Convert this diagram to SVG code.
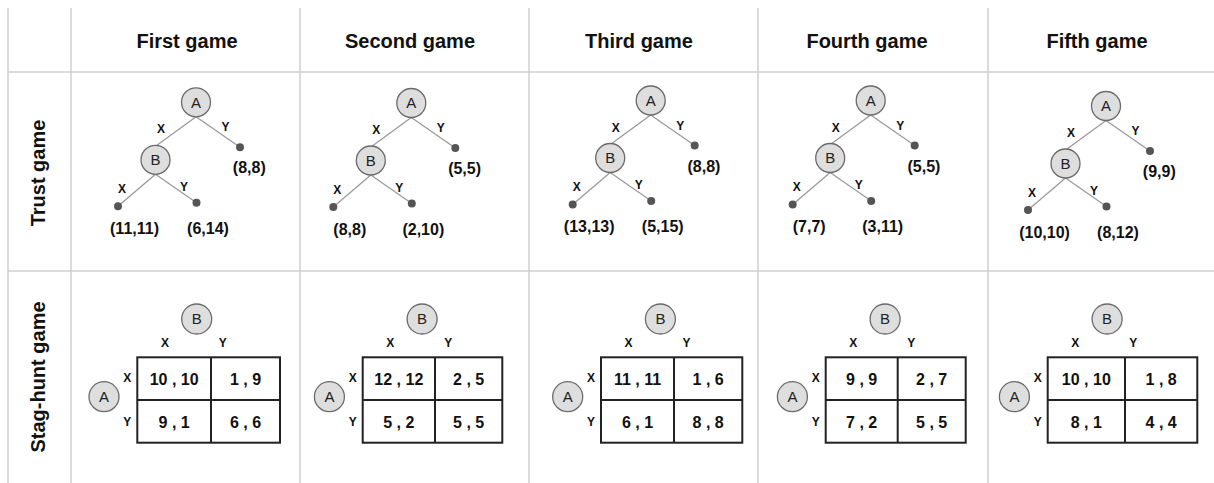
<svg xmlns="http://www.w3.org/2000/svg" width="1214" height="483" viewBox="0 0 1214 483">
<style>
.grid{stroke:#cfcfcf;stroke-width:1.5;fill:none}
.hdr{font-family:"Liberation Sans",Arial,sans-serif;font-weight:bold;font-size:20px;fill:#111;text-anchor:middle}
.edge{stroke:#9a9a9a;stroke-width:1.3;fill:none}
.node{fill:#dedede;stroke:#6a6a6a;stroke-width:1.3}
.leaf{fill:#555}
.nl{font-family:"Liberation Sans",Arial,sans-serif;font-size:15px;fill:#222;text-anchor:middle}
.act{font-family:"Liberation Sans",Arial,sans-serif;font-weight:bold;font-size:12px;fill:#111;text-anchor:middle}
.pay{font-family:"Liberation Sans",Arial,sans-serif;font-weight:bold;font-size:16px;fill:#111;text-anchor:middle}
.tbl{stroke:#222;stroke-width:2;fill:none}
</style>
<g id="grid" class="grid">
<line x1="8" y1="8" x2="8" y2="483"/>
<line x1="71" y1="8" x2="71" y2="483"/>
<line x1="300" y1="8" x2="300" y2="483"/>
<line x1="529" y1="8" x2="529" y2="483"/>
<line x1="758" y1="8" x2="758" y2="483"/>
<line x1="988" y1="8" x2="988" y2="483"/>
<line x1="8" y1="72" x2="1214" y2="72"/>
<line x1="8" y1="271" x2="1214" y2="271"/>
</g>
<g id="headers">
<text class="hdr" x="187" y="48">First game</text>
<text class="hdr" x="410" y="48">Second game</text>
<text class="hdr" x="639" y="48">Third game</text>
<text class="hdr" x="867" y="48">Fourth game</text>
<text class="hdr" x="1097" y="48">Fifth game</text>
<text class="hdr" x="45" y="173" transform="rotate(-90 45 173)">Trust game</text>
<text class="hdr" x="45" y="377" transform="rotate(-90 45 377)">Stag-hunt game</text>
</g>
<defs>
<g id="treeEdges" class="edge">
<line x1="0" y1="14.5" x2="44" y2="45"/>
<line x1="0" y1="14.5" x2="-39" y2="43"/>
<line x1="-40.5" y1="72" x2="-78" y2="104"/>
<line x1="-40.5" y1="72" x2="0.5" y2="100.5"/>
</g>
<g id="treeNodes">
<circle class="node" cx="0" cy="0" r="14.5"/>
<text class="nl" x="0" y="5.4">A</text>
<circle class="node" cx="-40.5" cy="57.5" r="14.5"/>
<text class="nl" x="-40.5" y="62.9">B</text>
<circle class="leaf" cx="44" cy="45" r="4"/>
<circle class="leaf" cx="-78" cy="104" r="4"/>
<circle class="leaf" cx="0.5" cy="100.5" r="4"/>
<text class="act" x="-35" y="31">X</text>
<text class="act" x="29.5" y="29">Y</text>
<text class="act" x="-74" y="90.5">X</text>
<text class="act" x="-12" y="88.5">Y</text>
</g>
</defs>
<g id="trust1" transform="translate(196 102.3)">
<g class="connectors"><use href="#treeEdges"/></g>
<use href="#treeNodes"/>
<text class="pay" x="53.3" y="71">(8,8)</text>
<text class="pay" x="-61.5" y="131.5">(11,11)</text>
<text class="pay" x="12" y="131.5">(6,14)</text>
</g>
<g id="trust2" transform="translate(411.3 103)">
<g class="connectors"><use href="#treeEdges"/></g>
<use href="#treeNodes"/>
<text class="pay" x="53.3" y="71">(5,5)</text>
<text class="pay" x="-61.5" y="131.5">(8,8)</text>
<text class="pay" x="12" y="131.5">(2,10)</text>
</g>
<g id="trust3" transform="translate(650.7 100.5)">
<g class="connectors"><use href="#treeEdges"/></g>
<use href="#treeNodes"/>
<text class="pay" x="53.3" y="71">(8,8)</text>
<text class="pay" x="-61.5" y="131.5">(13,13)</text>
<text class="pay" x="12" y="131.5">(5,15)</text>
</g>
<g id="trust4" transform="translate(870.7 100.5)">
<g class="connectors"><use href="#treeEdges"/></g>
<use href="#treeNodes"/>
<text class="pay" x="53.3" y="71">(5,5)</text>
<text class="pay" x="-61.5" y="131.5">(7,7)</text>
<text class="pay" x="12" y="131.5">(3,11)</text>
</g>
<g id="trust5" transform="translate(1106 106)">
<g class="connectors"><use href="#treeEdges"/></g>
<use href="#treeNodes"/>
<text class="pay" x="53.3" y="71">(9,9)</text>
<text class="pay" x="-61.5" y="131.5">(10,10)</text>
<text class="pay" x="12" y="131.5">(8,12)</text>
</g>
<defs>
<g id="mxHead">
<circle class="node" cx="59.4" cy="319" r="15"/>
<text class="nl" x="59.4" y="324.4">B</text>
<text class="act" x="27.6" y="346.5">X</text>
<text class="act" x="85.5" y="346.5">Y</text>
<text class="act" x="-10" y="382">X</text>
<text class="act" x="-10" y="426">Y</text>
<circle class="node" cx="-33.3" cy="396.7" r="15"/>
<text class="nl" x="-33.3" y="402.1">A</text>
</g>
</defs>
<g id="stag1" transform="translate(137.3 0)">
<use href="#mxHead"/>
<rect class="tbl" x="0" y="357.3" width="142.7" height="85.4"/>
<line class="tbl" x1="73.7" y1="357.3" x2="73.7" y2="442.7"/>
<line class="tbl" x1="0" y1="400" x2="142.7" y2="400"/>
<text class="pay" x="36.85" y="384.8">10 , 10</text>
<text class="pay" x="108.2" y="384.8">1 , 9</text>
<text class="pay" x="36.85" y="428">9 , 1</text>
<text class="pay" x="108.2" y="428">6 , 6</text>
</g>
<g id="stag2" transform="translate(362.7 0)">
<use href="#mxHead"/>
<rect class="tbl" x="0" y="357.3" width="139.6" height="85.4"/>
<line class="tbl" x1="72.3" y1="357.3" x2="72.3" y2="442.7"/>
<line class="tbl" x1="0" y1="400" x2="139.6" y2="400"/>
<text class="pay" x="36.15" y="384.8">12 , 12</text>
<text class="pay" x="105.95" y="384.8">2 , 5</text>
<text class="pay" x="36.15" y="428">5 , 2</text>
<text class="pay" x="105.95" y="428">5 , 5</text>
</g>
<g id="stag3" transform="translate(601 0)">
<use href="#mxHead"/>
<rect class="tbl" x="0" y="357.3" width="141.3" height="85.4"/>
<line class="tbl" x1="73" y1="357.3" x2="73" y2="442.7"/>
<line class="tbl" x1="0" y1="400" x2="141.3" y2="400"/>
<text class="pay" x="36.5" y="384.8">11 , 11</text>
<text class="pay" x="107.15" y="384.8">1 , 6</text>
<text class="pay" x="36.5" y="428">6 , 1</text>
<text class="pay" x="107.15" y="428">8 , 8</text>
</g>
<g id="stag4" transform="translate(825.7 0)">
<use href="#mxHead"/>
<rect class="tbl" x="0" y="357.3" width="140" height="85.4"/>
<line class="tbl" x1="72" y1="357.3" x2="72" y2="442.7"/>
<line class="tbl" x1="0" y1="400" x2="140" y2="400"/>
<text class="pay" x="36" y="384.8">9 , 9</text>
<text class="pay" x="106" y="384.8">2 , 7</text>
<text class="pay" x="36" y="428">7 , 2</text>
<text class="pay" x="106" y="428">5 , 5</text>
</g>
<g id="stag5" transform="translate(1047.7 0)">
<use href="#mxHead"/>
<rect class="tbl" x="0" y="357.3" width="149.6" height="85.4"/>
<line class="tbl" x1="77.3" y1="357.3" x2="77.3" y2="442.7"/>
<line class="tbl" x1="0" y1="400" x2="149.6" y2="400"/>
<text class="pay" x="38.65" y="384.8">10 , 10</text>
<text class="pay" x="113.45" y="384.8">1 , 8</text>
<text class="pay" x="38.65" y="428">8 , 1</text>
<text class="pay" x="113.45" y="428">4 , 4</text>
</g>
</svg>
